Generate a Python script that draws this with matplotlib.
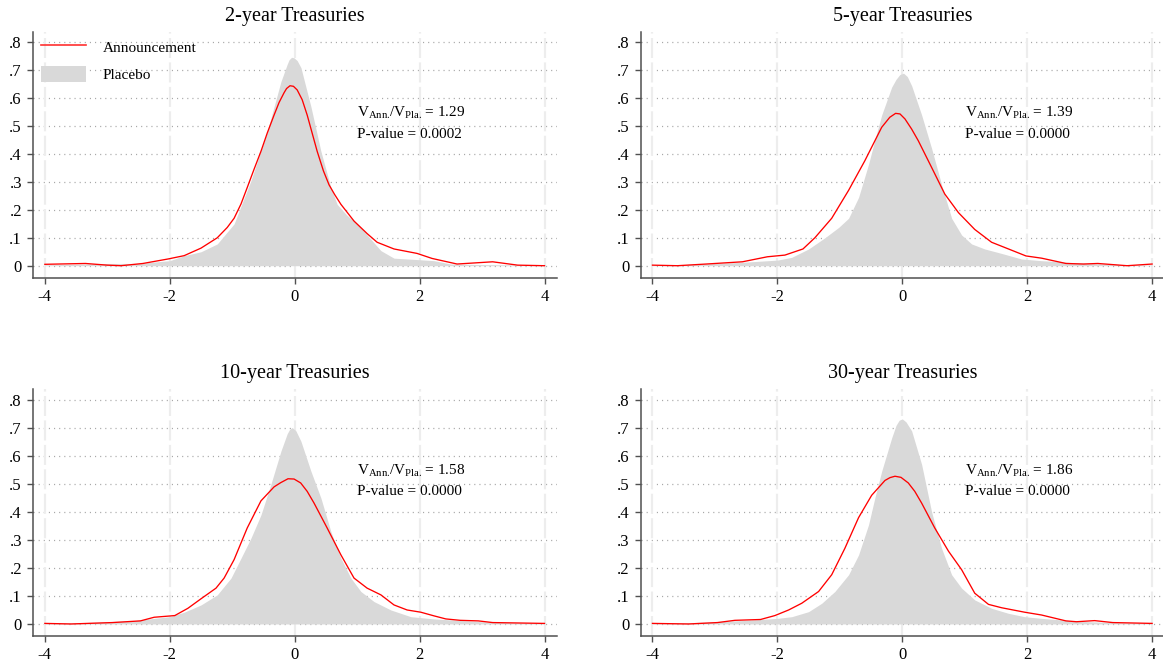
import matplotlib
matplotlib.use("Agg")
import matplotlib.pyplot as plt
from matplotlib.lines import Line2D
from matplotlib.patches import Patch

plt.rcParams['font.family'] = ['Liberation Serif', 'DejaVu Serif']
plt.rcParams['mathtext.fontset'] = 'custom'
plt.rcParams['mathtext.rm'] = 'Liberation Serif'
plt.rcParams['mathtext.it'] = 'Liberation Serif:italic'

titles = ["2-year Treasuries", "5-year Treasuries", "10-year Treasuries", "30-year Treasuries"]
ratios = ["1.29", "1.39", "1.58", "1.86"]
pvalues = ["0.0002", "0.0000", "0.0000", "0.0000"]
xticks = [-4, -2, 0, 2, 4]
yticks = [0, 0.1, 0.2, 0.3, 0.4, 0.5, 0.6, 0.7, 0.8]
yticklabels = ["0", ".1", ".2", ".3", ".4", ".5", ".6", ".7", ".8"]

# 2-year
ann2_x = [-4.0, -3.35, -3.0, -2.78, -2.43, -2.03, -1.77, -1.5, -1.24, -1.08, -0.97, -0.86, -0.76, -0.65, -0.54,
          -0.44, -0.33, -0.25, -0.17, -0.13, -0.075, -0.02, 0.04, 0.12, 0.2, 0.28, 0.36, 0.46, 0.55, 0.64, 0.74,
          0.95, 1.16, 1.32, 1.59, 1.96, 2.2, 2.6, 3.17, 3.57, 4.0]
ann2_y = [0.005, 0.008, 0.002, 0.0, 0.008, 0.024, 0.036, 0.063, 0.10, 0.137, 0.17, 0.221, 0.28, 0.346, 0.41,
          0.475, 0.54, 0.585, 0.62, 0.635, 0.645, 0.643, 0.63, 0.595, 0.54, 0.475, 0.41, 0.34, 0.29, 0.255, 0.22,
          0.16, 0.115, 0.084, 0.06, 0.044, 0.026, 0.006, 0.014, 0.002, 0.0]
pla2_x = [-4.0, -3.5, -3.0, -2.5, -2.0, -1.77, -1.5, -1.24, -0.97, -0.70, -0.44, -0.33, -0.22, -0.12, -0.09,
          -0.05, -0.01, 0.04, 0.1, 0.26, 0.42, 0.58, 0.68, 0.84, 1.0, 1.16, 1.38, 1.59, 1.96, 2.23, 2.5, 3.0, 3.5, 4.0]
pla2_y = [0.003, 0.005, 0.008, 0.008, 0.018, 0.036, 0.05, 0.078, 0.15, 0.305, 0.48, 0.57, 0.66, 0.722, 0.738,
          0.747, 0.745, 0.735, 0.71, 0.57, 0.41, 0.28, 0.22, 0.18, 0.15, 0.11, 0.054, 0.027, 0.022, 0.018, 0.006, 0.004, 0.003, 0.002]

# 5-year
ann5_x = [-4.0, -3.6, -3.14, -2.56, -2.16, -1.88, -1.59, -1.4, -1.13, -0.86, -0.6, -0.33, -0.2, -0.107, -0.037,
          0.043, 0.149, 0.256, 0.47, 0.68, 0.9, 1.16, 1.43, 1.7, 1.98, 2.23, 2.62, 2.9, 3.13, 3.6, 4.0]
ann5_y = [0.002, 0.0, 0.006, 0.014, 0.032, 0.038, 0.06, 0.10, 0.17, 0.27, 0.376, 0.496, 0.532, 0.546, 0.544,
          0.526, 0.49, 0.448, 0.352, 0.257, 0.19, 0.13, 0.084, 0.06, 0.035, 0.027, 0.008, 0.006, 0.008, 0.0, 0.006]
pla5_x = [-4.0, -3.5, -3.0, -2.57, -2.0, -1.77, -1.5, -1.24, -1.02, -0.86, -0.7, -0.54, -0.44, -0.33, -0.17,
          -0.1, -0.04, 0.02, 0.08, 0.15, 0.31, 0.47, 0.63, 0.79, 0.95, 1.11, 1.32, 1.59, 1.91, 2.23, 2.68, 3.0, 3.5, 4.0]
pla5_y = [0.002, 0.004, 0.008, 0.012, 0.02, 0.03, 0.06, 0.10, 0.137, 0.17, 0.245, 0.364, 0.45, 0.54, 0.64,
          0.668, 0.685, 0.69, 0.678, 0.645, 0.54, 0.42, 0.29, 0.17, 0.11, 0.078, 0.06, 0.044, 0.024, 0.018, 0.012, 0.008, 0.004, 0.002]

# 10-year
ann10_x = [-4.0, -3.58, -2.92, -2.47, -2.25, -1.92, -1.71, -1.5, -1.26, -1.13, -0.97, -0.76, -0.54, -0.33, -0.224,
           -0.107, -0.01, 0.096, 0.2, 0.31, 0.52, 0.74, 0.95, 1.16, 1.38, 1.59, 1.8, 2.02, 2.23, 2.42, 2.65, 2.94, 3.17, 4.0]
ann10_y = [0.002, 0.0, 0.005, 0.011, 0.024, 0.03, 0.056, 0.09, 0.128, 0.164, 0.23, 0.343, 0.44, 0.49, 0.505,
           0.519, 0.518, 0.504, 0.474, 0.432, 0.343, 0.247, 0.164, 0.128, 0.104, 0.068, 0.05, 0.042, 0.029, 0.018, 0.013, 0.011, 0.005, 0.002]
pla10_x = [-4.0, -3.5, -3.0, -2.57, -2.0, -1.77, -1.5, -1.24, -1.02, -0.86, -0.70, -0.54, -0.38, -0.22, -0.12,
           -0.08, -0.04, 0.02, 0.1, 0.26, 0.42, 0.58, 0.74, 0.9, 1.06, 1.27, 1.54, 1.86, 2.23, 2.68, 3.0, 3.5, 4.0]
pla10_y = [0.002, 0.004, 0.008, 0.012, 0.026, 0.042, 0.068, 0.104, 0.164, 0.235, 0.307, 0.39, 0.50, 0.618, 0.68,
           0.696, 0.702, 0.69, 0.653, 0.546, 0.45, 0.33, 0.235, 0.164, 0.116, 0.08, 0.05, 0.026, 0.018, 0.012, 0.008, 0.004, 0.002]

# 30-year
ann30_x = [-4.0, -3.42, -2.96, -2.68, -2.27, -2.04, -1.82, -1.61, -1.34, -1.13, -0.92, -0.7, -0.49, -0.277, -0.197,
           -0.117, -0.021, 0.096, 0.2, 0.31, 0.52, 0.74, 0.95, 1.16, 1.38, 1.59, 1.96, 2.23, 2.62, 2.79, 3.08, 3.37, 4.0]
ann30_y = [0.002, 0.0, 0.005, 0.013, 0.016, 0.03, 0.05, 0.074, 0.116, 0.176, 0.27, 0.38, 0.46, 0.513, 0.523,
           0.528, 0.524, 0.504, 0.474, 0.432, 0.343, 0.26, 0.194, 0.11, 0.07, 0.058, 0.042, 0.032, 0.011, 0.008, 0.012, 0.005, 0.002]
pla30_x = [-4.0, -3.5, -3.0, -2.57, -2.0, -1.77, -1.5, -1.29, -1.08, -0.86, -0.7, -0.54, -0.44, -0.33, -0.17,
           -0.1, -0.05, 0.0, 0.06, 0.15, 0.31, 0.47, 0.63, 0.79, 0.95, 1.16, 1.43, 1.7, 1.96, 2.23, 2.68, 3.0, 3.5, 4.0]
pla30_y = [0.002, 0.004, 0.008, 0.012, 0.02, 0.026, 0.044, 0.074, 0.116, 0.176, 0.247, 0.355, 0.45, 0.546, 0.665,
           0.71, 0.728, 0.733, 0.722, 0.69, 0.57, 0.4, 0.27, 0.176, 0.128, 0.086, 0.056, 0.038, 0.026, 0.02, 0.012, 0.008, 0.004, 0.002]

panels = [(ann2_x, ann2_y, pla2_x, pla2_y), (ann5_x, ann5_y, pla5_x, pla5_y),
          (ann10_x, ann10_y, pla10_x, pla10_y), (ann30_x, ann30_y, pla30_x, pla30_y)]

W, H = 1163, 667
fig = plt.figure(figsize=(W / 100, H / 100), dpi=100)
lefts = [33, 640.6, 33, 640.6]
tops = [31.7, 31.7, 389.3, 389.3]
bottoms = [277.7, 277.7, 636, 636]
aw = 524

spine_col = '#505050'
for i, (ax_x, ax_y, px, py) in enumerate(panels):
    l, t, b = lefts[i], tops[i], bottoms[i]
    ax = fig.add_axes([l / W, 1 - b / H, aw / W, (b - t) / H])
    ax.set_axisbelow(True)
    for yv in yticks:
        ax.axhline(yv, color='#a8a8a8', lw=0.9, linestyle=(0, (0.9, 3.2)), zorder=0)
    for xv in xticks:
        ax.axvline(xv, color='#ededed', lw=1.6, linestyle=(0, (9, 2)), zorder=0)
    ax.fill_between(px, 0, py, color='#d9d9d9', lw=0, zorder=1)
    ax.plot(ax_x, ax_y, color='#ff0000', lw=0.95, zorder=2, solid_joinstyle='round')
    ax.set_xlim(-4.19, 4.2)
    ax.set_ylim(-0.043, 0.8387)
    ax.set_xticks(xticks)
    ax.set_xticklabels([str(v) for v in xticks])
    ax.set_yticks(yticks)
    ax.set_yticklabels(yticklabels)
    ax.tick_params(axis='both', labelsize=12, length=4, width=1.0, color=spine_col, direction='out')
    ax.tick_params(axis='x', pad=4)
    ax.tick_params(axis='y', pad=4)
    for s in ['top', 'right']:
        ax.spines[s].set_visible(False)
    for s in ['left', 'bottom']:
        ax.spines[s].set_color(spine_col)
        ax.spines[s].set_linewidth(1.1)
    ax.set_title(titles[i], fontsize=14.5, pad=8)
    ax.text(1.0, 0.548,
            r'$\mathrm{V}_{\mathrm{Ann.}}\!/\mathrm{V}_{\mathrm{Pla.}}\!$ = ' + ratios[i],
            fontsize=11, ha='left', va='center')
    ax.text(1.0, 0.472, 'P-value = ' + pvalues[i], fontsize=11, ha='left', va='center')
    if i == 0:
        handles = [Line2D([0], [0], color='#ff3030', lw=1.2),
                   Patch(facecolor='#d9d9d9', edgecolor='none')]
        ax.legend(handles, ['Announcement', 'Placebo'], loc='upper left',
                  bbox_to_anchor=(0.0153, 0.973), frameon=False, fontsize=11,
                  handlelength=2.95, handleheight=1.31, handletextpad=1.08,
                  labelspacing=0.69, borderpad=0, borderaxespad=0)

fig.savefig('out.png', dpi=100)
